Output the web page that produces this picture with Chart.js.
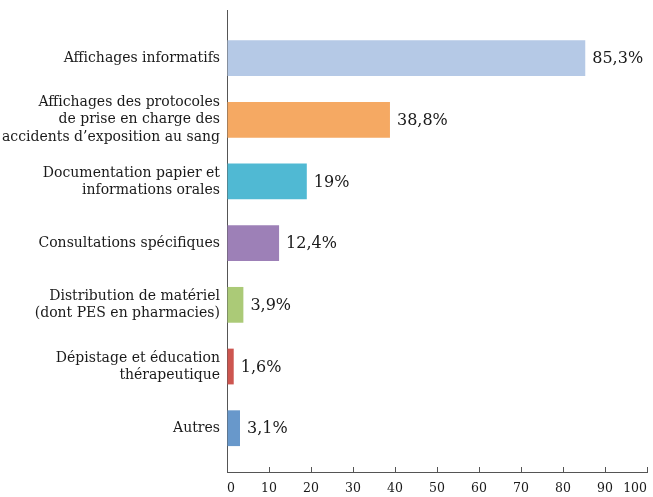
<!DOCTYPE html>
<html>
<head>
<meta charset="utf-8">
<script src="https://cdn.jsdelivr.net/npm/chart.js@4/dist/chart.umd.min.js"></script>
<style>
  html, body { margin: 0; padding: 0; background: #fff; }
  #wrap { width: 653px; height: 497px; }
</style>
</head>
<body>
<div id="wrap"><canvas id="chart"></canvas></div>
<script>
// categories (multi-line labels as arrays)
const categories = [
  ['Affichages informatifs'],
  ['Affichages des protocoles', 'de prise en charge des', 'accidents d\u2019exposition au sang'],
  ['Documentation papier et', 'informations orales'],
  ['Consultations spécifiques'],
  ['Distribution de matériel', '(dont PES en pharmacies)'],
  ['Dépistage et éducation', 'thérapeutique'],
  ['Autres']
];
const values = [85.3, 38.8, 19, 12.4, 3.9, 1.6, 3.1];
const colors = ['#b5c9e6', '#f5a963', '#50b9d3', '#9d80b7', '#abca77', '#cd5650', '#6898cb'];
const xTicks = [0, 10, 20, 30, 40, 50, 60, 70, 80, 90, 100];

const fmt = v => String(v).replace('.', ',') + '%';

// value labels drawn just past the end of each bar
const valueLabels = {
  id: 'valueLabels',
  afterDatasetsDraw(chart) {
    const ctx = chart.ctx;
    const meta = chart.getDatasetMeta(0);
    ctx.save();
    ctx.font = '16px "DejaVu Serif"';
    ctx.fillStyle = '#1a1a1a';
    ctx.textAlign = 'left';
    ctx.textBaseline = 'middle';
    meta.data.forEach((bar, i) => {
      ctx.fillText(fmt(values[i]), bar.x + 7, bar.y + 1);
    });
    ctx.restore();
  }
};

new Chart(document.getElementById('chart'), {
  type: 'bar',
  data: {
    datasets: [{
      data: values.map((v, i) => ({x: v, y: i})),
      backgroundColor: colors,
      borderWidth: 0,
      categoryPercentage: 1,
      barPercentage: 0.58
    }]
  },
  options: {
    indexAxis: 'y',
    responsive: true,
    maintainAspectRatio: false,
    animation: false,
    layout: { padding: { top: 10, right: 6, left: 0, bottom: 0 } },
    plugins: { legend: { display: false }, tooltip: { enabled: false } },
    scales: {
      x: {
        type: 'linear',
        min: 0,
        max: 100,
        afterBuildTicks: s => { s.ticks = xTicks.map(v => ({value: v})); },
        afterFit: s => { s.height = 25; s.paddingRight = 0; s.paddingLeft = 0; },
        grid: { drawOnChartArea: false, drawTicks: true, tickLength: -5, color: '#555' },
        border: { display: true, color: '#555', width: 1 },
        ticks: {
          padding: 14,
          align: 'inner',
          maxRotation: 0,
          autoSkip: false,
          color: '#1a1a1a',
          font: { family: 'DejaVu Serif', size: 12.5 }
        }
      },
      y: {
        type: 'linear',
        reverse: true,
        offset: false,
        min: -0.78,
        max: 6.71,
        afterBuildTicks: s => { s.ticks = categories.map((_, i) => ({value: i})); },
        afterFit: s => { s.width = 227; s.paddingTop = 0; s.paddingBottom = 0; },
        grid: { display: true, drawOnChartArea: false, drawTicks: false },
        border: { display: true, color: '#555', width: 1 },
        ticks: {
          padding: 7,
          autoSkip: false,
          color: '#1a1a1a',
          font: { family: 'DejaVu Serif', size: 14, lineHeight: 1.22 },
          callback: v => categories[v]
        }
      }
    }
  },
  plugins: [valueLabels]
});
</script>
</body>
</html>
